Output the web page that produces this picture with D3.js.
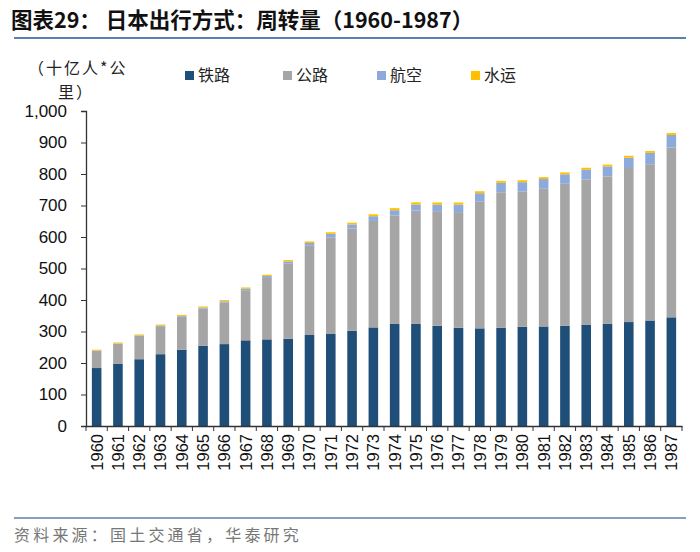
<!DOCTYPE html>
<html><head><meta charset="utf-8">
<script src="https://cdn.jsdelivr.net/npm/d3@7"></script>
<style>
body{margin:0;background:#fff;}
svg{display:block;}
</style></head>
<body>
<svg id="chart" width="700" height="552"></svg>
<script>
const years = ["1960","1961","1962","1963","1964","1965","1966","1967","1968","1969","1970","1971","1972","1973","1974","1975","1976","1977","1978","1979","1980","1981","1982","1983","1984","1985","1986","1987"];
const rail  = [184,197,212,228,242,255,260,272,275,277,289,292,302,313,324,324,318,312,310,312,315,316,318,322,325,330,335,345];
const road  = [55,64,74,89,105,118,132,159,195,238,283,307,325,338,344,360,364,367,402,430,429,437,451,461,467,489,496,539];
const air   = [0.7,1,1.5,2,2.5,3,4,5,6,7.5,9,11,13,15,17,19,21,24,27,30,30,31,30,31,32,33,36,40];
const water = [2.7,3,3,3,3.2,3.4,3.6,3.8,4,4.2,4.8,5,5.5,6,6.5,6.9,6.6,6.5,6.3,6.2,6.1,6,5.9,5.8,5.8,5.8,5.9,6];
const seriesNames = ["铁路","公路","航空","水运"];
const colors = ["#1f4e79","#a5a5a5","#8eaadb","#ffc000"];
const yTicks = [0,100,200,300,400,500,600,700,800,900,1000];

const svg = d3.select("#chart");
const cjk = "'Noto Sans CJK SC', sans-serif";
const latin = "'Liberation Sans', Arial, sans-serif";

// title
svg.append("text").attr("x",11).attr("y",28).attr("font-family",cjk).attr("font-weight","bold")
  .attr("font-size",21.5).attr("fill","#111").text("图表29： 日本出行方式：周转量（1960-1987）");
svg.append("line").attr("x1",14).attr("x2",686).attr("y1",38).attr("y2",38)
  .attr("stroke","#5b7fb0").attr("stroke-width",2);

// footer
svg.append("line").attr("x1",14).attr("x2",686).attr("y1",518).attr("y2",518)
  .attr("stroke","#5b7fb0").attr("stroke-width",1.5);
svg.append("text").attr("x",14).attr("y",541).attr("font-family",cjk).attr("letter-spacing",3.2)
  .attr("font-size",16).attr("fill","#777").text("资料来源：国土交通省，华泰研究");

// unit label
svg.append("text").attr("x",28).attr("y",74).attr("font-family",cjk)
  .attr("font-size",16).attr("letter-spacing",2).attr("fill","#222").text("（十亿人*公");
svg.append("text").attr("x",58).attr("y",98).attr("font-family",cjk)
  .attr("font-size",16).attr("letter-spacing",2).attr("fill","#222").text("里）");

const margin = {left:86, right:18};
const W = 700;
const x = d3.scaleBand().domain(years).range([margin.left, W - margin.right]).paddingInner(0.55).paddingOuter(0.275);
const y = d3.scaleLinear().domain([0,1000]).range([426,111]);

const data = years.map((yr,i)=>({year:yr, 铁路:rail[i], 公路:road[i], 航空:air[i], 水运:water[i]}));
const stack = d3.stack().keys(seriesNames)(data);

svg.append("g").selectAll("g").data(stack).join("g")
  .attr("fill",(d,i)=>colors[i])
  .selectAll("rect").data(d=>d).join("rect")
  .attr("x",d=>x(d.data.year)).attr("width",x.bandwidth())
  .attr("y",d=>y(d[1])).attr("height",d=>Math.max(0,y(d[0])-y(d[1])));

// y axis
const yAxis = svg.append("g").attr("transform",`translate(${margin.left},0)`)
  .call(d3.axisLeft(y).tickValues(yTicks).tickFormat(d3.format(",")).tickSize(5).tickPadding(14));
yAxis.select(".domain").attr("stroke","#333").attr("stroke-width",1.3);
yAxis.selectAll(".tick line").attr("stroke","#333");
yAxis.selectAll("text").attr("font-family",latin).attr("font-size",17).attr("fill","#111");

// x axis
const xAxis = svg.append("g").attr("transform",`translate(0,${y(0)})`)
  .call(d3.axisBottom(x).tickSize(0));
xAxis.select(".domain").attr("stroke","#333").attr("stroke-width",1.3);
xAxis.selectAll("text").attr("font-family",latin).attr("font-size",16.5).attr("fill","#111")
  .attr("transform","rotate(-90)").attr("text-anchor","end")
  .attr("x",-8).attr("y",0).attr("dy","0.36em");
// boundary ticks
const step = x.step();
const bounds = years.map(yr=>x(yr) - (step - x.bandwidth())/2).concat([W - margin.right]);
xAxis.selectAll(".bt").data(bounds).join("line").attr("class","bt")
  .attr("x1",d=>d).attr("x2",d=>d).attr("y1",0).attr("y2",5).attr("stroke","#333");

// legend
const legX = [185,283,377,471];
const leg = svg.append("g").selectAll("g").data(seriesNames).join("g")
  .attr("transform",(d,i)=>`translate(${legX[i]},81)`);
leg.append("rect").attr("x",0).attr("y",-10).attr("width",9).attr("height",9).attr("fill",(d,i)=>colors[i]);
leg.append("text").attr("x",13).attr("y",0).attr("font-family",cjk).attr("font-size",16)
  .attr("fill","#222").text(d=>d);
</script>
</body></html>
